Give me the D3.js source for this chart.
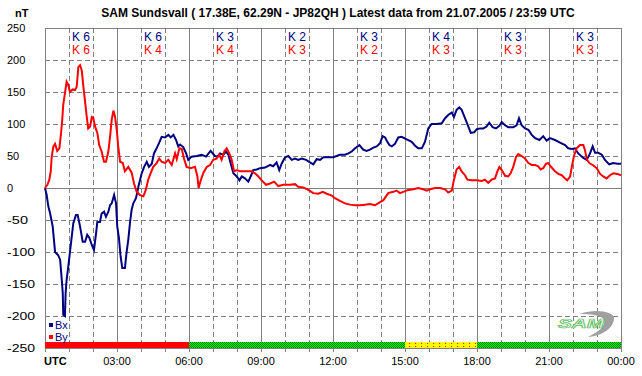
<!DOCTYPE html>
<html>
<head>
<meta charset="utf-8">
<script src="https://cdnjs.cloudflare.com/ajax/libs/d3/7.8.5/d3.min.js"></script>
<style>
  body { margin: 0; background: #fff; }
  svg text { font-family: "Liberation Sans", Arial, sans-serif; }
</style>
</head>
<body>
<div id="chart"></div>
<script>
// time in hours UTC, values in nT
var bxTime = [0,0.07,0.14,0.21,0.32,0.42,0.55,0.63,0.70,0.74,0.76,0.83,0.86,0.90,0.97,1.04,1.18,1.29,1.36,1.46,1.57,1.67,1.76,1.85,1.95,2.04,2.13,2.18,2.29,2.36,2.46,2.54,2.64,2.71,2.78,2.88,2.96,3.01,3.08,3.15,3.22,3.33,3.40,3.47,3.54,3.61,3.68,3.79,3.85,3.89,4.03,4.13,4.24,4.33,4.45,4.54,4.65,4.75,4.86,5.00,5.14,5.24,5.35,5.46,5.55,5.63,5.76,5.88,5.97,6.11,6.32,6.53,6.71,6.90,7.08,7.18,7.29,7.43,7.54,7.64,7.74,7.85,7.99,8.10,8.20,8.33,8.47,8.57,8.68,8.82,8.96,9.17,9.38,9.51,9.65,9.76,9.86,10.00,10.14,10.28,10.42,10.55,10.70,10.88,11.04,11.18,11.32,11.46,11.60,11.80,12.01,12.15,12.29,12.50,12.64,12.78,12.92,13.10,13.26,13.40,13.54,13.68,13.82,13.96,14.07,14.17,14.24,14.35,14.45,14.58,14.72,14.86,15.07,15.28,15.42,15.55,15.70,15.83,15.97,16.11,16.32,16.53,16.67,16.80,16.95,17.04,17.15,17.26,17.36,17.50,17.64,17.74,17.88,17.99,18.13,18.26,18.40,18.51,18.65,18.79,18.93,19.03,19.17,19.30,19.51,19.65,19.75,19.86,20.00,20.14,20.28,20.42,20.60,20.76,20.90,21.04,21.25,21.46,21.67,21.80,21.95,22.08,22.22,22.43,22.57,22.71,22.82,22.92,23.05,23.20,23.33,23.51,23.68,23.85,24];
var bxVals = [0,-11,-29,-39,-60,-100,-105,-112,-144,-164,-198,-200,-164,-144,-123,-100,-55,-42,-42,-60,-84,-84,-73,-78,-89,-97,-70,-53,-53,-40,-37,-45,-37,-27,-24,-11,-24,-60,-78,-107,-125,-125,-100,-81,-55,-34,-24,-16,-6,2,23,33,41,33,38,54,62,70,80,79,83,79,83,75,65,68,64,54,44,49,50,52,49,58,50,49,54,52,57,52,38,23,18,12,18,15,10,18,28,29,31,32,36,34,40,28,38,48,50,44,46,44,46,44,40,37,45,44,48,48,48,50,52,52,54,57,62,67,60,58,60,63,65,70,81,79,74,67,65,69,79,80,76,72,66,62,62,72,93,100,100,101,109,114,118,111,122,126,122,109,96,86,87,92,93,93,96,102,95,93,97,103,98,95,95,98,109,98,93,91,83,78,75,81,74,78,75,71,67,62,61,62,54,47,44,54,65,55,55,52,44,37,39,38,38];

var byTime = [0,0.10,0.18,0.24,0.28,0.35,0.42,0.51,0.60,0.67,0.72,0.76,0.83,0.90,0.97,1.04,1.15,1.25,1.32,1.39,1.46,1.53,1.60,1.67,1.74,1.80,1.88,1.95,2.01,2.08,2.18,2.26,2.36,2.46,2.54,2.64,2.71,2.78,2.85,2.92,2.99,3.05,3.13,3.24,3.33,3.47,3.61,3.71,3.82,3.96,4.10,4.20,4.30,4.40,4.51,4.65,4.76,4.86,5.00,5.14,5.28,5.42,5.49,5.60,5.70,5.79,5.90,6.07,6.25,6.35,6.40,6.49,6.60,6.74,6.88,7.01,7.15,7.26,7.36,7.47,7.57,7.68,7.78,7.88,7.99,8.13,8.33,8.61,8.75,8.89,9.03,9.21,9.38,9.55,9.72,9.93,10.21,10.42,10.55,10.76,10.97,11.18,11.39,11.57,11.74,11.95,12.08,12.29,12.50,12.71,12.92,13.13,13.33,13.54,13.75,13.96,14.10,14.30,14.51,14.65,14.79,14.93,15.14,15.35,15.55,15.76,15.90,16.04,16.25,16.46,16.67,16.80,16.95,17.04,17.15,17.26,17.36,17.50,17.60,17.78,17.99,18.20,18.33,18.47,18.61,18.75,18.85,18.93,19.03,19.17,19.30,19.40,19.51,19.63,19.72,19.86,20.00,20.14,20.28,20.42,20.55,20.65,20.76,20.88,20.97,21.11,21.25,21.39,21.53,21.67,21.76,21.88,21.95,22.04,22.15,22.29,22.43,22.50,22.57,22.68,22.82,22.99,23.13,23.26,23.40,23.54,23.68,23.85,24];
var byVals = [0,5,13,26,49,65,69,58,62,86,107,130,148,166,161,150,154,153,158,189,192,184,158,135,111,93,96,111,110,97,86,67,57,41,41,57,80,107,121,111,91,65,41,39,26,33,24,7,-6,-11,-13,-3,13,23,33,39,46,41,39,44,36,54,45,62,61,46,33,31,33,18,0,12,24,33,36,44,46,52,44,57,62,54,44,26,28,26,26,26,23,18,12,5,7,10,3,5,5,6,2,1,-3,-8,-9,-6,-9,-12,-16,-20,-24,-26,-27,-27,-26,-25,-27,-22,-19,-8,-6,-4,-8,-6,-3,-2,0,-2,-4,-2,0,0,-2,-7,-4,13,29,33,26,20,13,12,12,11,13,8,13,15,26,33,28,19,18,23,33,49,53,50,46,39,36,36,34,29,31,38,39,32,26,22,20,15,12,18,33,50,62,67,67,59,45,39,36,31,22,18,15,20,23,22,20];

// K indices per 3-hour block
var kBx = ["6","6","3","2","3","4","3","3"];
var kBy = ["6","4","4","3","2","3","3","3"];
// status bar per 3-hour block
var blockStatus = ["red","red","green","green","green","yellow","green","green"];
var yTicks = [250,200,150,100,50,0,-50,-100,-150,-200,-250];
var xTickLabels = ["UTC","03:00","06:00","09:00","12:00","15:00","18:00","21:00","00:00"];

var W = 642, H = 376;
var svg = d3.select("#chart").append("svg").attr("width", W).attr("height", H);

var x = d3.scaleLinear().domain([0, 24]).range([45, 621]);
var y = d3.scaleLinear().domain([-250, 250]).range([348, 28]);
var grey = "#808080";

var defs = svg.append("defs");
var pg = defs.append("pattern").attr("id", "pGreen").attr("width", 2).attr("height", 2).attr("patternUnits", "userSpaceOnUse");
pg.append("rect").attr("width", 2).attr("height", 2).attr("fill", "#00ff00");
pg.append("rect").attr("width", 1).attr("height", 1).attr("fill", "#008000");
pg.append("rect").attr("x", 1).attr("y", 1).attr("width", 1).attr("height", 1).attr("fill", "#008000");
var py = defs.append("pattern").attr("id", "pYellow").attr("width", 6).attr("height", 3).attr("patternUnits", "userSpaceOnUse");
py.append("rect").attr("width", 6).attr("height", 3).attr("fill", "#ffff00");
py.append("rect").attr("x", 1).attr("y", 1).attr("width", 1).attr("height", 1).attr("fill", "#ff0000");
var statusFill = { red: "#ff0000", green: "url(#pGreen)", yellow: "url(#pYellow)" };

// title
svg.append("text").attr("x", 338).attr("y", 17).attr("text-anchor", "middle")
  .attr("font-size", "12px").attr("font-weight", "bold")
  .text("SAM Sundsvall ( 17.38E, 62.29N - JP82QH ) Latest data from 21.07.2005 / 23:59 UTC");
svg.append("text").attr("x", 15).attr("y", 17).attr("font-size", "11px").attr("font-weight", "bold").text("nT");

var grid = svg.append("g").attr("shape-rendering", "crispEdges");

// horizontal grid
grid.selectAll("line.h").data(yTicks.filter(function (d) { return Math.abs(d) < 250; })).enter().append("line")
  .attr("x1", x(0)).attr("x2", x(24))
  .attr("y1", function (d) { return Math.round(y(d)) + 0.5; })
  .attr("y2", function (d) { return Math.round(y(d)) + 0.5; })
  .attr("stroke", grey)
  .attr("stroke-dasharray", function (d) { return d === 0 ? null : "5,3"; });

// vertical grid, hourly
var hours = d3.range(1, 24);
grid.selectAll("line.v").data(hours).enter().append("line")
  .attr("x1", function (d) { return Math.round(x(d)) + 0.5; })
  .attr("x2", function (d) { return Math.round(x(d)) + 0.5; })
  .attr("y1", y(250)).attr("y2", y(-250))
  .attr("stroke", grey)
  .attr("stroke-dasharray", function (d) { return d % 3 === 0 ? null : "5,3"; });

// tick marks under the axis
grid.selectAll("line.t").data(d3.range(0, 25)).enter().append("line")
  .attr("x1", function (d) { return Math.round(x(d)) + 0.5; })
  .attr("x2", function (d) { return Math.round(x(d)) + 0.5; })
  .attr("y1", y(-250)).attr("y2", y(-250) + 4)
  .attr("stroke", grey);

// status bar
svg.selectAll("rect.status").data(blockStatus).enter().append("rect")
  .attr("x", function (d, i) { return x(i * 3); })
  .attr("width", x(3) - x(0))
  .attr("y", y(-250) - 6).attr("height", 6)
  .attr("fill", function (d) { return statusFill[d]; });

// frame
grid.append("rect").attr("x", x(0) + 0.5).attr("y", y(250) + 0.5)
  .attr("width", x(24) - x(0)).attr("height", y(-250) - y(250))
  .attr("fill", "none").attr("stroke", grey);

// y labels
svg.selectAll("text.yl").data(yTicks).enter().append("text")
  .attr("x", 7).attr("y", function (d) { return y(d) + 4; })
  .attr("font-size", "11px")
  .attr("textLength", function (d) { return d < 0 ? (d > -100 ? 21 : 28) : null; })
  .attr("lengthAdjust", "spacingAndGlyphs")
  .text(function (d) { return d; });

// x labels
svg.selectAll("text.xl").data(xTickLabels).enter().append("text")
  .attr("x", function (d, i) { return i === 0 ? x(0) - 1 : x(i * 3); })
  .attr("y", 365)
  .attr("text-anchor", function (d, i) { return i === 0 ? "start" : "middle"; })
  .attr("font-size", "11px")
  .attr("font-weight", function (d, i) { return i === 0 ? "bold" : null; })
  .text(function (d) { return d; });

// K labels
svg.selectAll("text.kx").data(kBx).enter().append("text")
  .attr("x", function (d, i) { return x(i * 3 + 1.5); }).attr("y", 41)
  .attr("text-anchor", "middle").attr("font-size", "12px").attr("fill", "#000080")
  .text(function (d) { return "K " + d; });
svg.selectAll("text.ky").data(kBy).enter().append("text")
  .attr("x", function (d, i) { return x(i * 3 + 1.5); }).attr("y", 54)
  .attr("text-anchor", "middle").attr("font-size", "12px").attr("fill", "#ff0000")
  .text(function (d) { return "K " + d; });

// series
var line = d3.line().x(function (d) { return x(d[0]); }).y(function (d) { return y(d[1]); });
var bx = d3.zip(bxTime, bxVals), by = d3.zip(byTime, byVals);
svg.append("path").datum(bx).attr("d", line).attr("fill", "none").attr("stroke", "#000080").attr("stroke-width", 2);
svg.append("path").datum(by).attr("d", line).attr("fill", "none").attr("stroke", "#ff0000").attr("stroke-width", 2);

// legend
var legend = [["Bx", "#000080"], ["By", "#ff0000"]];
var lg = svg.selectAll("g.lg").data(legend).enter().append("g")
  .attr("transform", function (d, i) { return "translate(49," + (325 + i * 12) + ")"; });
lg.append("rect").attr("x", 0).attr("y", -2).attr("width", 4).attr("height", 4).attr("fill", function (d) { return d[1]; });
lg.append("text").attr("x", 6).attr("y", 4).attr("font-size", "11px").attr("fill", "#000080").text(function (d) { return d[0]; });

// SAM logo
var logo = svg.append("g").attr("transform", "translate(558,312)");
logo.append("path")
  .attr("d", "M22,2 C38,-4 56,0 56,6 C56,16 44,24 30,25 C40,20 48,14 46,8 C44,3 32,2 22,2 Z")
  .attr("fill", "#a0a0a0");
logo.append("text").attr("x", 0).attr("y", 16).attr("font-size", "13px").attr("font-style", "italic")
  .attr("font-weight", "bold").attr("fill", "#f4f4f4").attr("stroke", "#5cc05c").attr("stroke-width", 0.7)
  .attr("textLength", 46).attr("lengthAdjust", "spacingAndGlyphs").text("SAM");
</script>
</body>
</html>
